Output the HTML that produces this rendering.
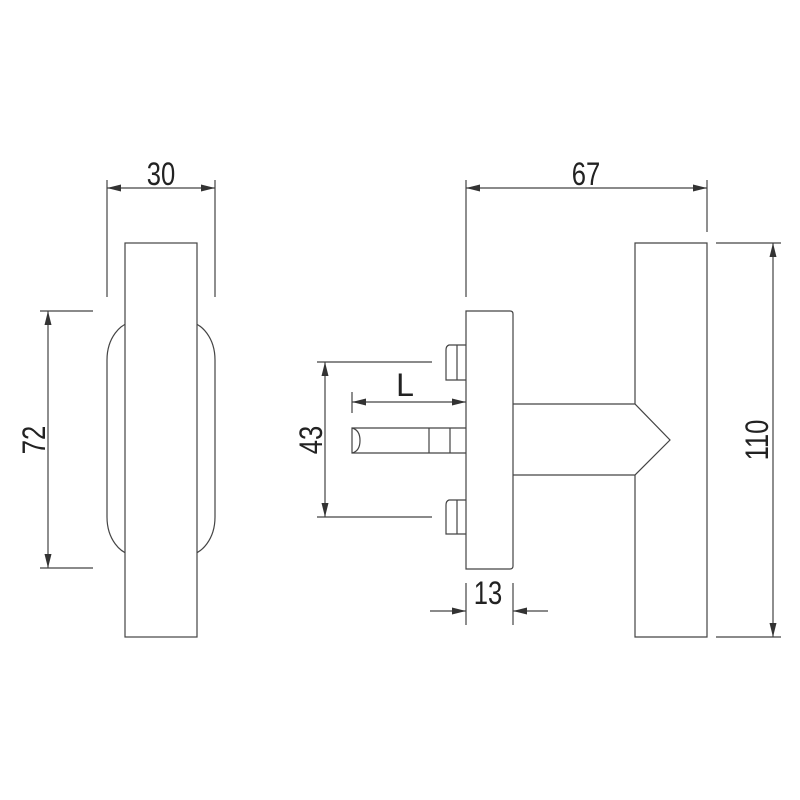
<!DOCTYPE html>
<html><head><style>html,body{margin:0;padding:0;background:#fff}svg{display:block}</style></head><body>
<svg width="800" height="800" viewBox="0 0 800 800" xmlns="http://www.w3.org/2000/svg">
<defs>
<marker id="a" viewBox="0 0 14 7" refX="14" refY="3.5" markerWidth="14" markerHeight="7" orient="auto-start-reverse" markerUnits="userSpaceOnUse"><path d="M0,0 L14,3.5 L0,7 z" fill="#333"/></marker>
</defs>
<g fill="none" stroke="#444" stroke-width="1.2">
<rect x="107" y="322" width="108" height="233" rx="28" ry="38" fill="#fff"/>
<rect x="125" y="243" width="72" height="394" fill="#fff"/>
<line x1="107" y1="180" x2="107" y2="297"/>
<line x1="215" y1="180" x2="215" y2="297"/>
<line x1="107" y1="188" x2="215" y2="188" marker-start="url(#a)" marker-end="url(#a)"/>
<line x1="40" y1="311" x2="93" y2="311"/>
<line x1="40" y1="568" x2="93" y2="568"/>
<line x1="48" y1="311" x2="48" y2="568" marker-start="url(#a)" marker-end="url(#a)"/>
<path d="M466,311 H510 Q513,311 513,314 V566 Q513,569 510,569 H466 Z"/>
<path d="M466,345 H449 Q446,346 446,350 V380 H466"/>
<line x1="457" y1="345" x2="457" y2="380"/>
<path d="M466,500 H449 Q446,501 446,505 V534 H466"/>
<line x1="457" y1="500" x2="457" y2="534"/>
<path d="M466,428 H352 V453 H466"/>
<path d="M352,428 Q360,430 360,440.5 Q360,451 352,453"/>
<line x1="429" y1="428" x2="429" y2="453"/>
<line x1="450" y1="428" x2="450" y2="453"/>
<path d="M513,404 H635 L670,440 L635,475 H513"/>
<path d="M635,404 V243 H707 V637 H635 V475"/>
<line x1="466" y1="180" x2="466" y2="297"/>
<line x1="707" y1="180" x2="707" y2="232"/>
<line x1="466" y1="188" x2="707" y2="188" marker-start="url(#a)" marker-end="url(#a)"/>
<line x1="716" y1="243" x2="781" y2="243"/>
<line x1="716" y1="637" x2="781" y2="637"/>
<line x1="773" y1="243" x2="773" y2="637" marker-start="url(#a)" marker-end="url(#a)"/>
<line x1="317" y1="362" x2="432" y2="362"/>
<line x1="317" y1="517" x2="432" y2="517"/>
<line x1="325" y1="362" x2="325" y2="517" marker-start="url(#a)" marker-end="url(#a)"/>
<line x1="352" y1="392" x2="352" y2="413"/>
<line x1="352" y1="402" x2="466" y2="402" marker-start="url(#a)" marker-end="url(#a)"/>
<line x1="466" y1="583" x2="466" y2="625"/>
<line x1="513" y1="583" x2="513" y2="625"/>
<line x1="430" y1="611" x2="466" y2="611" marker-end="url(#a)"/>
<line x1="548" y1="611" x2="513" y2="611" marker-end="url(#a)"/>
</g>
<g font-family="Liberation Sans, sans-serif" font-size="32" fill="#222" text-anchor="middle">
<text transform="translate(161 185) scale(0.8 1)">30</text>
<text transform="translate(586 185) scale(0.8 1)">67</text>
<text x="405" y="396">L</text>
<text transform="translate(488 604) scale(0.8 1)">13</text>
<text transform="translate(45 440) rotate(-90) scale(0.8 1)">72</text>
<text transform="translate(322 440) rotate(-90) scale(0.8 1)">43</text>
<text transform="translate(768 440) rotate(-90) scale(0.8 1)">110</text>
</g>
</svg>
</body></html>
